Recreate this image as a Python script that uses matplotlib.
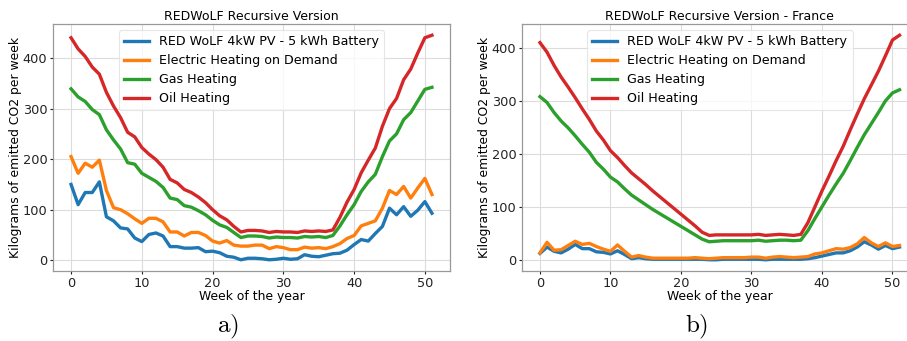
import matplotlib
matplotlib.use("Agg")
import matplotlib.pyplot as plt
import numpy as np

weeks = list(range(52))

labels = ["RED WoLF 4kW PV - 5 kWh Battery", "Electric Heating on Demand",
          "Gas Heating", "Oil Heating"]
colors = ["#1f77b4", "#ff7f0e", "#2ca02c", "#d62728"]

# Plot a) REDWoLF Recursive Version
a_redwolf = [150, 110, 134, 134, 155, 86, 78, 64, 62, 44, 37, 51, 54, 48, 27, 27, 24, 24, 25, 17,
             18, 15, 8, 6, 1, 4, 4, 3, 1, 2, 4, 2, 3, 11, 8, 7, 10, 13, 14, 20,
             31, 41, 38, 53, 67, 103, 90, 106, 87, 99, 116, 93]
a_electric = [205, 172, 192, 184, 198, 138, 104, 100, 92, 82, 73, 83, 83, 76, 56, 56, 48, 55, 55, 49,
              38, 34, 39, 30, 28, 28, 30, 30, 23, 27, 25, 21, 21, 26, 24, 25, 23, 27, 33, 43,
              49, 68, 73, 78, 103, 138, 130, 146, 123, 143, 162, 130]
a_gas = [339, 323, 314, 298, 288, 258, 238, 220, 193, 190, 172, 164, 156, 144, 123, 120, 108, 105, 98, 90,
         79, 70, 65, 55, 45, 48, 48, 47, 44, 46, 45, 45, 44, 47, 46, 47, 45, 49, 68, 90,
         110, 136, 155, 170, 205, 236, 250, 278, 292, 315, 338, 342]
a_oil = [440, 418, 403, 382, 368, 332, 305, 282, 253, 244, 223, 210, 199, 184, 160, 153, 140, 134, 125, 114,
         100, 88, 80, 67, 56, 59, 59, 58, 55, 57, 56, 56, 55, 58, 57, 58, 57, 60, 85, 115,
         140, 173, 198, 222, 265, 300, 320, 357, 378, 410, 440, 445]

# Plot b) REDWoLF Recursive Version - France
b_redwolf = [12, 24, 16, 13, 20, 29, 21, 21, 15, 14, 11, 17, 10, 2, 4, 2, 1, 1, 1, 1,
             1, 1, 1, 1, 0, 0, 1, 1, 1, 1, 1, 1, 0, 1, 1, 1, 1, 1, 2, 4,
             7, 10, 13, 13, 17, 24, 34, 28, 20, 27, 21, 24]
b_electric = [13, 33, 18, 19, 27, 35, 29, 31, 25, 20, 16, 28, 16, 5, 8, 5, 3, 3, 3, 3,
              3, 3, 4, 3, 2, 3, 4, 4, 4, 4, 5, 5, 3, 5, 6, 5, 4, 5, 6, 11,
              13, 17, 21, 20, 23, 30, 42, 32, 25, 32, 25, 27]
b_gas = [308, 297, 278, 262, 249, 234, 218, 203, 184, 171, 156, 147, 134, 122, 113, 104, 95, 87, 79, 71,
         63, 55, 47, 39, 34, 35, 36, 36, 36, 36, 36, 37, 35, 36, 37, 37, 36, 37, 55, 78,
         100, 122, 143, 163, 187, 212, 236, 257, 278, 300, 315, 321]
b_oil = [410, 392, 367, 345, 326, 306, 285, 265, 243, 226, 206, 193, 178, 164, 153, 142, 130, 119, 108, 97,
         86, 75, 64, 52, 46, 47, 47, 47, 47, 47, 47, 48, 46, 47, 48, 47, 46, 48, 70, 100,
         130, 158, 187, 214, 245, 275, 304, 330, 356, 385, 415, 424]

titles = ["REDWoLF Recursive Version", "REDWoLF Recursive Version - France"]
sub_labels = ["a)", "b)"]
xlabel = "Week of the year"
ylabel = "Kilograms of emitted CO2 per week"

plt.rcParams['font.family'] = ['DejaVu Sans']
plt.rcParams['mathtext.fontset'] = 'cm'

W, H = 907, 341
fig = plt.figure(figsize=(W / 100, H / 100), dpi=100)
fig.patch.set_facecolor('white')

ax_a = fig.add_axes([53 / W, (H - 271) / H, 397 / W, 247 / H])
ax_b = fig.add_axes([522 / W, (H - 271) / H, 395.5 / W, 247 / H])

datasets = [[a_redwolf, a_electric, a_gas, a_oil], [b_redwolf, b_electric, b_gas, b_oil]]

for ax, data, title in zip([ax_a, ax_b], datasets, titles):
    ax.set_axisbelow(True)
    ax.grid(True, color='#dcdcdc', linewidth=0.8)
    for series, lab, col in zip(data, labels, colors):
        ax.plot(weeks, series, color=col, linewidth=2.4, label=lab)
    ax.set_title(title, fontsize=9, pad=3)
    ax.set_xlabel(xlabel, fontsize=8.9, labelpad=0.5)
    ax.set_ylabel(ylabel, fontsize=8.9, labelpad=0.5)
    ax.set_xticks([0, 10, 20, 30, 40, 50])
    ax.set_yticks([0, 100, 200, 300, 400])
    ax.tick_params(labelsize=9.3, length=2.5, width=0.8, pad=1.5, colors='#222222')
    for sp in ax.spines.values():
        sp.set_color('#999999')
        sp.set_linewidth(0.9)
    leg = ax.legend(loc='upper center', fontsize=9.1, frameon=True, handlelength=2.0,
                    borderpad=0.4, labelspacing=0.47, handletextpad=0.8)
    leg.get_frame().set_edgecolor('#e0e0e0')
    leg.get_frame().set_linewidth(0.8)

for lab, xc in zip(sub_labels, [228, 697]):
    fig.text(xc / W, 1 - 327 / H, r'$\mathrm{' + lab + '}$', fontsize=18, ha='center', va='center')

fig.savefig('out.png', dpi=100)
